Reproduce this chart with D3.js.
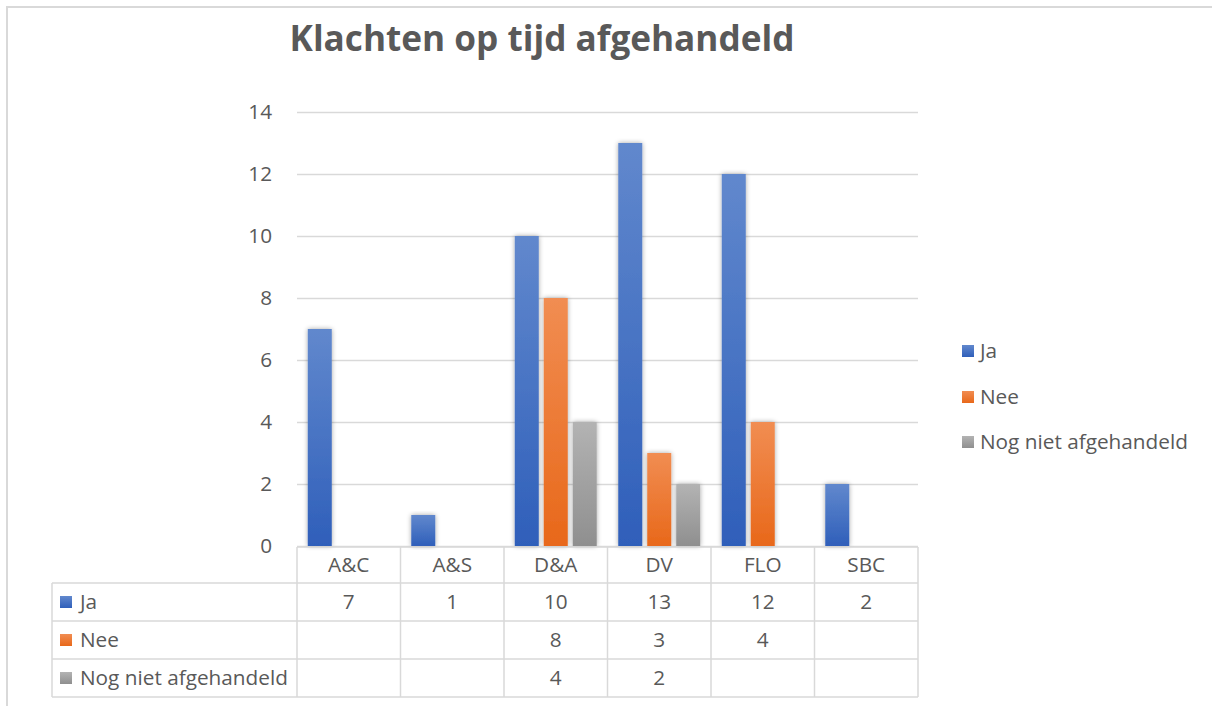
<!DOCTYPE html>
<html>
<head>
<meta charset="utf-8">
<script src="https://cdn.jsdelivr.net/npm/d3@7"></script>
<style>
  body { margin: 0; background: #fff; }
  text { font-family: "Open Sans", Lato, sans-serif; fill: #595959; }
</style>
</head>
<body>
<div id="chart"></div>
<script>
// data
var categories = ["A&C", "A&S", "D&A", "DV", "FLO", "SBC"];
var seriesNames = ["Ja", "Nee", "Nog niet afgehandeld"];
var ja = [7, 1, 10, 13, 12, 2];
var nee = [null, null, 8, 3, 4, null];
var nogNiet = [null, null, 4, 2, null, null];
var yTicks = [0, 2, 4, 6, 8, 10, 12, 14];

var seriesValues = [ja, nee, nogNiet];
var colors = [
  { top: "#6188cd", bottom: "#2f5fba" },
  { top: "#f18d52", bottom: "#e8681a" },
  { top: "#b3b3b3", bottom: "#8f8f8f" }
];

var svgWidth = 1212;
var svgHeight = 706;

// plot area
var plot = { left: 297, right: 918, top: 112, bottom: 546 };

var svg = d3.select("#chart")
  .append("svg")
  .attr("width", svgWidth)
  .attr("height", svgHeight);

// find a font size so that a text gets a given width
function fitSize(str, weight, targetWidth) {
  var t = svg.append("text")
    .style("font-size", "100px")
    .style("font-weight", weight)
    .text(str);
  var w = t.node().getComputedTextLength();
  t.remove();
  return 100 * targetWidth / w;
}

var labelSize = fitSize("Nog niet afgehandeld", "normal", 208) + "px";
var titleSize = fitSize("Klachten op tijd afgehandeld", "bold", 505) + "px";

var defs = svg.append("defs");

colors.forEach(function(c, i) {
  var g = defs.append("linearGradient")
    .attr("id", "grad" + i)
    .attr("x1", 0).attr("y1", 0).attr("x2", 0).attr("y2", 1);
  g.append("stop").attr("offset", "0%").attr("stop-color", c.top);
  g.append("stop").attr("offset", "100%").attr("stop-color", c.bottom);
});

var shadow = defs.append("filter")
  .attr("id", "shadow")
  .attr("x", "-40%").attr("y", "-10%")
  .attr("width", "180%").attr("height", "120%");
shadow.append("feGaussianBlur").attr("in", "SourceAlpha").attr("stdDeviation", 2.5).attr("result", "blur");
shadow.append("feComponentTransfer").attr("in", "blur").attr("result", "soft")
  .append("feFuncA").attr("type", "linear").attr("slope", 0.35);
var merge = shadow.append("feMerge");
merge.append("feMergeNode").attr("in", "soft");
merge.append("feMergeNode").attr("in", "SourceGraphic");

// chart border (cropped at right and bottom)
svg.append("rect")
  .attr("x", 7).attr("y", 7)
  .attr("width", svgWidth).attr("height", svgHeight)
  .attr("fill", "none")
  .attr("stroke", "#d9d9d9")
  .attr("stroke-width", 2);

// title
svg.append("text")
  .attr("x", 542)
  .attr("y", 51)
  .attr("text-anchor", "middle")
  .style("font-size", titleSize)
  .style("font-weight", "bold")
  .text("Klachten op tijd afgehandeld");

// scales
var x0 = d3.scaleBand()
  .domain(categories)
  .range([plot.left, plot.right])
  .padding(0);

var bw = x0.bandwidth();
var x1 = d3.scaleBand()
  .domain(seriesNames)
  .range([bw * 0.104, bw * 0.896])
  .paddingInner(0.172)
  .paddingOuter(0);

var y = d3.scaleLinear()
  .domain([0, 14])
  .range([plot.bottom, plot.top]);

// gridlines
var yAxis = d3.axisLeft(y)
  .tickValues(yTicks)
  .tickSize(-(plot.right - plot.left))
  .tickPadding(25);

var yAxisG = svg.append("g")
  .attr("transform", "translate(" + plot.left + ",0)")
  .call(yAxis);
yAxisG.select(".domain").remove();
yAxisG.selectAll(".tick line")
  .attr("stroke", "#d9d9d9")
  .attr("stroke-width", 1.5);
yAxisG.selectAll(".tick text")
  .style("font-family", "'Open Sans', sans-serif")
  .style("font-size", labelSize)
  .style("fill", "#595959");

// bars
var groups = svg.selectAll(".cat")
  .data(categories)
  .enter()
  .append("g")
  .attr("class", "cat")
  .attr("transform", function(d) { return "translate(" + x0(d) + ",0)"; });

groups.selectAll("rect")
  .data(function(d, ci) {
    return seriesNames.map(function(s, si) {
      return { series: s, si: si, value: seriesValues[si][ci] };
    }).filter(function(e) { return e.value != null; });
  })
  .enter()
  .append("rect")
  .attr("x", function(d) { return x1(d.series); })
  .attr("width", x1.bandwidth())
  .attr("y", function(d) { return y(d.value); })
  .attr("height", function(d) { return y(0) - y(d.value); })
  .attr("fill", function(d) { return "url(#grad" + d.si + ")"; })
  .attr("filter", "url(#shadow)");

// data table
var tableLeft = 52;
var rowEdges = [547, 583, 621, 659, 697];
var lineColor = "#d9d9d9";
var table = svg.append("g");

// horizontal lines
table.append("line")
  .attr("x1", plot.left).attr("x2", plot.right)
  .attr("y1", rowEdges[0]).attr("y2", rowEdges[0]);
rowEdges.slice(1).forEach(function(yy) {
  table.append("line")
    .attr("x1", tableLeft).attr("x2", plot.right)
    .attr("y1", yy).attr("y2", yy);
});
// vertical lines
table.append("line")
  .attr("x1", tableLeft).attr("x2", tableLeft)
  .attr("y1", rowEdges[1]).attr("y2", rowEdges[4]);
categories.forEach(function(c) {
  table.append("line")
    .attr("x1", x0(c)).attr("x2", x0(c))
    .attr("y1", rowEdges[0]).attr("y2", rowEdges[4]);
});
table.append("line")
  .attr("x1", plot.right).attr("x2", plot.right)
  .attr("y1", rowEdges[0]).attr("y2", rowEdges[4]);
table.selectAll("line")
  .attr("stroke", lineColor)
  .attr("stroke-width", 1.5);

// category header
table.selectAll(".cat-label")
  .data(categories)
  .enter()
  .append("text")
  .attr("class", "cat-label")
  .attr("x", function(d) { return x0(d) + bw / 2; })
  .attr("y", (rowEdges[0] + rowEdges[1]) / 2)
  .attr("dy", "0.35em")
  .attr("text-anchor", "middle")
  .style("font-size", labelSize)
  .text(function(d) { return d; });

// rows
seriesNames.forEach(function(s, si) {
  var yMid = (rowEdges[si + 1] + rowEdges[si + 2]) / 2;
  table.append("rect")
    .attr("x", 60).attr("y", yMid - 6)
    .attr("width", 12).attr("height", 12)
    .attr("fill", "url(#grad" + si + ")");
  table.append("text")
    .attr("x", 80).attr("y", yMid)
    .attr("dy", "0.35em")
    .style("font-size", labelSize)
    .text(s);
  categories.forEach(function(c, ci) {
    var v = seriesValues[si][ci];
    if (v == null) return;
    table.append("text")
      .attr("x", x0(c) + bw / 2)
      .attr("y", yMid)
      .attr("dy", "0.35em")
      .attr("text-anchor", "middle")
      .style("font-size", labelSize)
      .text(v);
  });
});

// legend
var legendY = [351, 397, 442];
var legend = svg.append("g");
seriesNames.forEach(function(s, si) {
  legend.append("rect")
    .attr("x", 962).attr("y", legendY[si] - 6)
    .attr("width", 12).attr("height", 12)
    .attr("fill", "url(#grad" + si + ")");
  legend.append("text")
    .attr("x", 980).attr("y", legendY[si])
    .attr("dy", "0.35em")
    .style("font-size", labelSize)
    .text(s);
});
</script>
</body>
</html>
